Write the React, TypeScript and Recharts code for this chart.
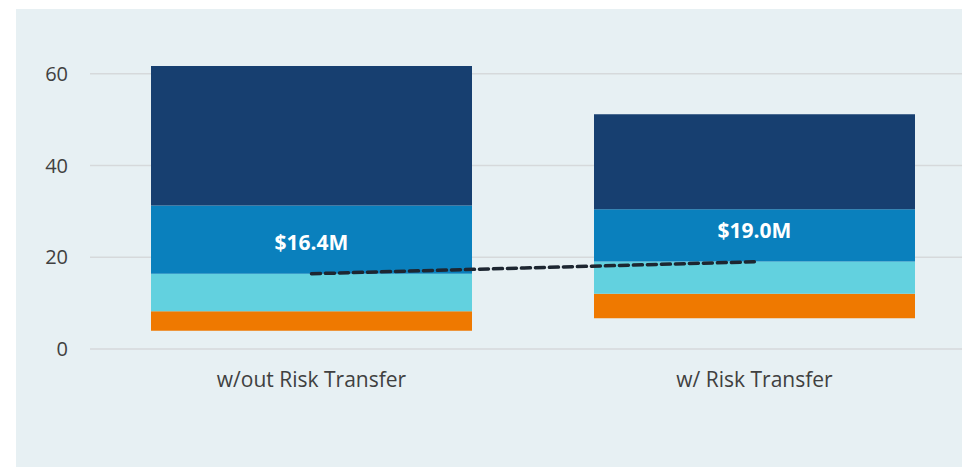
import React from "react";
import { ComposedChart, Bar, Line, XAxis, YAxis, CartesianGrid, LabelList } from "recharts";

const categories = ["w/out Risk Transfer", "w/ Risk Transfer"];
const baseValues = [4.0, 6.7];
const orangeValues = [4.2, 5.35];
const cyanValues = [8.2, 7.0];
const blueValues = [14.9, 11.4];
const navyValues = [30.4, 20.7];
const expectedValues = [16.4, 19.0];
const labelTexts = ["$16.4M", "$19.0M"];
const labelPositions = [23.4, 25.9];
const yTicks = [0, 20, 40, 60];

const data = categories.map((name, i) => ({
  name,
  base: baseValues[i],
  orange: orangeValues[i],
  cyan: cyanValues[i],
  blue: blueValues[i],
  navy: navyValues[i],
  expected: expectedValues[i],
  labelPos: labelPositions[i],
  labelText: labelTexts[i],
}));

const FONT = "'Open Sans', Lato, sans-serif";

const renderLabel = (props: any) => {
  const { x, y, value } = props;
  return (
    <text
      x={x}
      y={y}
      textAnchor="middle"
      dominantBaseline="central"
      fill="#ffffff"
      fontWeight={700}
      fontSize={21}
      fontFamily={FONT}
    >
      {value}
    </text>
  );
};

export default function App() {
  return (
    <div
      style={{
        position: "fixed",
        left: 16,
        top: 9,
        width: 946,
        height: 458,
        background: "#e7f0f3",
        overflow: "hidden",
      }}
    >
      <ComposedChart
        width={1000}
        height={458}
        data={data}
        margin={{ top: 18.8, right: 40, bottom: 78, left: 14 }}
      >
        <CartesianGrid
          vertical={false}
          horizontalValues={yTicks}
          stroke="#d6d9db"
          strokeWidth={1.5}
        />
        <XAxis
          dataKey="name"
          axisLine={false}
          tickLine={false}
          height={40}
          tickMargin={17}
          tick={{ fill: "#404040", fontSize: 21, fontFamily: FONT }}
        />
        <YAxis
          domain={[0, 70]}
          ticks={yTicks}
          axisLine={false}
          tickLine={false}
          width={60}
          tickMargin={16}
          tick={{ fill: "#404040", fontSize: 20, fontFamily: FONT }}
        />
        <Bar dataKey="base" stackId="a" fill="transparent" barSize={321} isAnimationActive={false} />
        <Bar dataKey="orange" stackId="a" fill="#ef7900" barSize={321} isAnimationActive={false} />
        <Bar dataKey="cyan" stackId="a" fill="#62d1df" barSize={321} isAnimationActive={false} />
        <Bar dataKey="blue" stackId="a" fill="#0a80bd" barSize={321} isAnimationActive={false} />
        <Bar dataKey="navy" stackId="a" fill="#173f70" barSize={321} isAnimationActive={false} />
        <Line
          dataKey="expected"
          stroke="#1d2631"
          strokeWidth={3.5}
          strokeDasharray="9 5"
          strokeLinecap="round"
          dot={false}
          activeDot={false}
          isAnimationActive={false}
        />
        <Line
          dataKey="labelPos"
          stroke="none"
          dot={false}
          activeDot={false}
          isAnimationActive={false}
        >
          <LabelList dataKey="labelText" content={renderLabel} />
        </Line>
      </ComposedChart>
    </div>
  );
}
